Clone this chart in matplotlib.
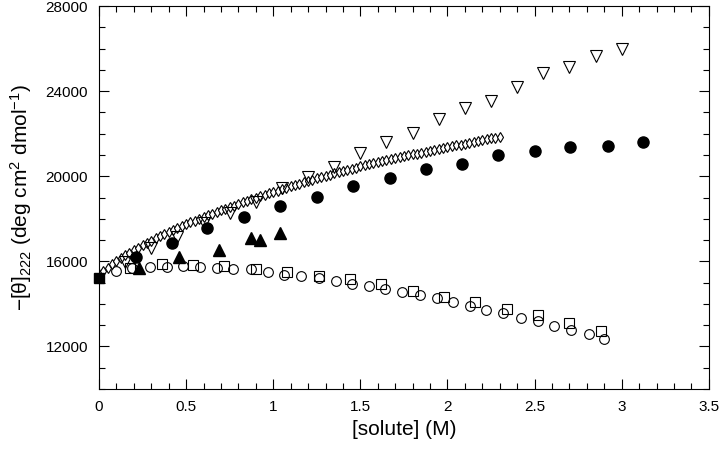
import matplotlib
matplotlib.use('Agg')
import matplotlib.pyplot as plt
from matplotlib.ticker import MultipleLocator, FormatStrFormatter

plt.rcParams['font.family'] = ['Liberation Sans', 'DejaVu Sans']
plt.rcParams['mathtext.fontset'] = 'custom'
plt.rcParams['mathtext.rm'] = 'Liberation Sans'
plt.rcParams['mathtext.it'] = 'Liberation Sans'
plt.rcParams['mathtext.default'] = 'regular'

# open diamonds (dense curve)
diam_x = [0.0, 0.025, 0.05, 0.075, 0.1, 0.125, 0.15, 0.175, 0.2, 0.225, 0.25, 0.275, 0.3, 0.325, 0.35, 0.375,
          0.4, 0.425, 0.45, 0.475, 0.5, 0.525, 0.55, 0.575, 0.6, 0.625, 0.65, 0.675, 0.7, 0.725, 0.75, 0.775,
          0.8, 0.825, 0.85, 0.875, 0.9, 0.925, 0.95, 0.975, 1.0, 1.025, 1.05, 1.075, 1.1, 1.125, 1.15, 1.175,
          1.2, 1.225, 1.25, 1.275, 1.3, 1.325, 1.35, 1.375, 1.4, 1.425, 1.45, 1.475, 1.5, 1.525, 1.55, 1.575,
          1.6, 1.625, 1.65, 1.675, 1.7, 1.725, 1.75, 1.775, 1.8, 1.825, 1.85, 1.875, 1.9, 1.925, 1.95, 1.975,
          2.0, 2.025, 2.05, 2.075, 2.1, 2.125, 2.15, 2.175, 2.2, 2.225, 2.25, 2.275, 2.3]
diam_y = [15400, 15560, 15710, 15860, 16000, 16140, 16280, 16410, 16540,
          16650, 16760, 16870, 16980, 17090, 17200, 17300, 17400,
          17490, 17580, 17670, 17760, 17840, 17920, 18000, 18080,
          18160, 18240, 18320, 18400, 18480, 18550, 18620, 18700,
          18770, 18840, 18910, 18980, 19050, 19120, 19190, 19250,
          19320, 19390, 19460, 19520, 19590, 19650, 19720, 19780,
          19840, 19900, 19960, 20020, 20080, 20140, 20200, 20250,
          20300, 20350, 20400, 20460, 20510, 20560, 20610, 20660,
          20710, 20760, 20800, 20850, 20900, 20940, 20990, 21030,
          21070, 21110, 21160, 21200, 21240, 21280, 21330, 21370,
          21410, 21450, 21490, 21530, 21580, 21620, 21660, 21700,
          21740, 21780, 21820, 21860]

# open down-triangles
tri_x = [0.15, 0.30, 0.45, 0.60, 0.75, 0.90, 1.05, 1.20, 1.35, 1.50,
         1.65, 1.80, 1.95, 2.10, 2.25, 2.40, 2.55, 2.70, 2.85, 3.00]
tri_y = [15980, 16640, 17150, 17810, 18280, 18800, 19460, 19980, 20450, 21110,
         21620, 22050, 22700, 23220, 23550, 24210, 24870, 25150, 25670, 26000]

# filled circles
fc_x = [0.21, 0.42, 0.62, 0.83, 1.04, 1.25, 1.46, 1.67, 1.875, 2.085, 2.29, 2.50, 2.705, 2.92, 3.125]
fc_y = [16210, 16870, 17580, 18090, 18610, 19040, 19550, 19930, 20350, 20590, 21010, 21200, 21390, 21430, 21620]

# filled up-triangles
ft_x = [0.23, 0.46, 0.69, 0.87, 0.925, 1.04]
ft_y = [15690, 16210, 16540, 17100, 17010, 17340]

# filled square at zero
fs_x = [0.0]
fs_y = [15200]

# open circles
oc_x = [0.10, 0.19, 0.29, 0.39, 0.48, 0.58, 0.68, 0.77, 0.87, 0.97, 1.06, 1.16, 1.26, 1.36, 1.45,
        1.55, 1.64, 1.74, 1.84, 1.94, 2.03, 2.13, 2.22, 2.32, 2.42, 2.52, 2.61, 2.71, 2.81, 2.90]
oc_y = [15550, 15690, 15740, 15740, 15790, 15740, 15690, 15650, 15650, 15510, 15360, 15320, 15220, 15080, 14940,
        14850, 14710, 14560, 14420, 14280, 14090, 13910, 13720, 13580, 13340, 13200, 12960, 12780, 12590, 12350]

# open squares
os_x = [0.18, 0.36, 0.54, 0.72, 0.90, 1.08, 1.26, 1.44, 1.62, 1.80, 1.98, 2.16, 2.34, 2.52, 2.70, 2.88]
os_y = [15690, 15880, 15840, 15790, 15650, 15510, 15320, 15180, 14940, 14610, 14330, 14090, 13760, 13480, 13110, 12730]

fig = plt.figure(figsize=(7.2, 4.51), dpi=100)
ax = fig.add_axes([0.1375, 0.1375, 0.847, 0.849])

ax.plot(oc_x, oc_y, 'o', ms=7, mfc='white', mec='black', mew=0.8, ls='none')
ax.plot(os_x, os_y, 's', ms=7, mfc='none', mec='black', mew=0.8, ls='none')
ax.plot(diam_x, diam_y, 'd', ms=5.5, mfc='white', mec='black', mew=0.8, ls='none')
ax.plot(tri_x, tri_y, 'v', ms=8, mfc='none', mec='black', mew=0.8, ls='none')
ax.plot(fc_x, fc_y, 'o', ms=8, color='black', ls='none')
ax.plot(ft_x, ft_y, '^', ms=8, color='black', ls='none')
ax.plot(fs_x, fs_y, 's', ms=7, color='black', ls='none', clip_on=False, zorder=5)

ax.set_xlim(0, 3.5)
ax.set_ylim(10000, 28000)
ax.xaxis.set_major_locator(MultipleLocator(0.5))
ax.xaxis.set_minor_locator(MultipleLocator(0.1))
ax.xaxis.set_major_formatter(FormatStrFormatter('%g'))
ax.set_yticks([12000, 16000, 20000, 24000, 28000])
ax.yaxis.set_minor_locator(MultipleLocator(1000))
ax.tick_params(which='both', direction='in', top=True, right=True, labelsize=11, width=0.8)
ax.tick_params(which='major', length=7, pad=8)
ax.tick_params(which='minor', length=4)
for s in ax.spines.values():
    s.set_linewidth(0.8)

ax.set_xlabel('[solute] (M)', fontsize=15, labelpad=4)
ax.set_ylabel('\u2212[\u03b8]$_{222}$ (deg cm$^2$ dmol$^{-1}$)', fontsize=15, labelpad=8)

plt.savefig('out.png', dpi=100)
